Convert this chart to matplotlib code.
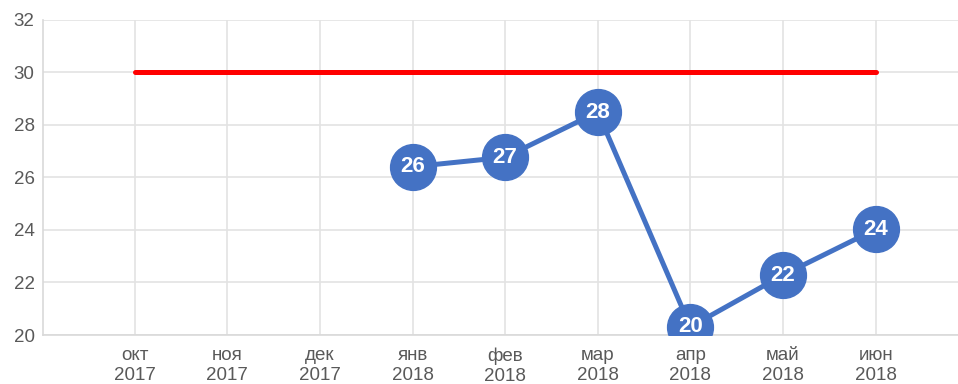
import numpy as np
import matplotlib
matplotlib.use("Agg")
import matplotlib.pyplot as plt

plt.rcParams['font.family'] = ['Liberation Sans', 'DejaVu Sans']

months = ["окт", "ноя", "дек", "янв", "фев", "мар", "апр", "май", "июн"]
years = ["2017", "2017", "2017", "2018", "2018", "2018", "2018", "2018", "2018"]
values = [np.nan, np.nan, np.nan, 26.40, 26.76, 28.48, 20.31, 22.28, 24.02]
target = [30] * 9
y_ticks = [20, 22, 24, 26, 28, 30, 32]

blue = "#4472C4"
grid_col = "#e3e3e3"
text_col = "#595959"

fig = plt.figure(figsize=(9.58, 3.84), dpi=100)
ax = fig.add_axes([43 / 958, 1 - 335 / 384, 1 - 43 / 958, (335 - 19.5) / 384])

x = np.arange(len(months))
ax.plot(x, target, color="#ff0000", lw=3.6, solid_capstyle="round", zorder=3)
ax.plot(x, values, color=blue, lw=3.6, marker="o", markersize=33,
        markerfacecolor=blue, markeredgecolor=blue, zorder=4)
for xi, v in zip(x, values):
    if not np.isnan(v):
        ax.text(xi, v, f"{v:.0f}", color="white", fontsize=16, fontweight="bold",
                ha="center", va="center", zorder=5)

ax.set_xlim(-0.99, 8.89)
ax.set_ylim(20, 32)
ax.set_yticks(y_ticks)
ax.set_xticks(x)
ax.set_xticklabels([f"{m}\n{y}" for m, y in zip(months, years)], linespacing=1.2)
ax.tick_params(axis="both", length=0, colors=text_col, labelsize=13.5)
ax.tick_params(axis="y", pad=6)
ax.tick_params(axis="x", pad=9)
ax.grid(True, color=grid_col, lw=1.2, zorder=0)
for side in ["top", "right"]:
    ax.spines[side].set_visible(False)
for side in ["left", "bottom"]:
    ax.spines[side].set_color("#d9d9d9")
    ax.spines[side].set_linewidth(1.2)
ax.set_axisbelow(True)

fig.savefig("out.png", dpi=100, facecolor="white")
